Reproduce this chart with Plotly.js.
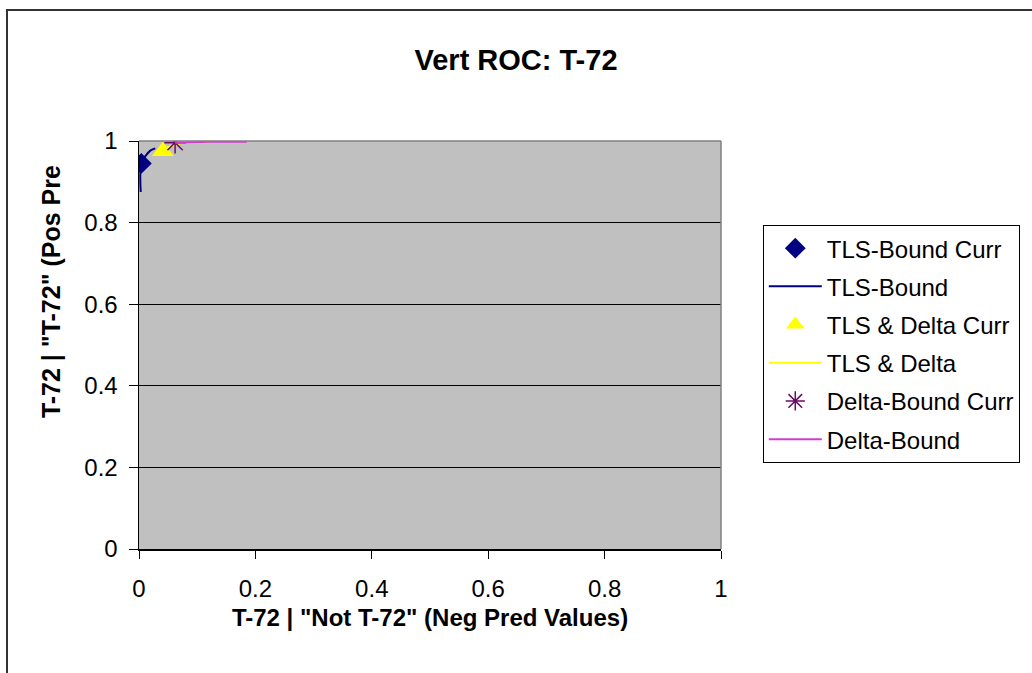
<!DOCTYPE html>
<html>
<head>
<meta charset="utf-8">
<script src="https://cdn.plot.ly/plotly-3.0.1.min.js"></script>
<style>
html,body{margin:0;padding:0;background:#fff;overflow:hidden;}
#wrap{position:relative;width:1032px;height:673px;}
#chart{width:1032px;height:673px;}
#frame{position:absolute;left:6px;top:9px;width:1100px;height:800px;border-left:2px solid #333;border-top:2px solid #333;pointer-events:none;}
</style>
</head>
<body>
<div id="wrap"><div id="chart"></div><div id="frame"></div></div>
<script>
// ---- data ----
var tickVals = [0, 0.2, 0.4, 0.6, 0.8, 1];
var tickText = ["0", "0.2", "0.4", "0.6", "0.8", "1"];

var tlsBoundCurrX = [0.004];
var tlsBoundCurrY = [0.945];
var tlsBoundX = [0.003, 0.004, 0.012, 0.02, 0.028];
var tlsBoundY = [0.875, 0.945, 0.965, 0.977, 0.982];

var tlsDeltaCurrX = [0.041];
var tlsDeltaCurrY = [0.975];
var tlsDeltaX = [0.035, 0.05, 0.075, 0.12];
var tlsDeltaY = [0.965, 0.985, 0.996, 0.998];

var deltaBoundCurrX = [0.062];
var deltaBoundCurrY = [0.996];
var deltaBoundX = [0.062, 0.12, 0.185];
var deltaBoundY = [0.996, 0.998, 0.998];

var seriesNames = ["TLS-Bound Curr", "TLS-Bound", "TLS & Delta Curr", "TLS & Delta", "Delta-Bound Curr", "Delta-Bound"];

var FONT = "Liberation Sans, Arial, sans-serif";

var traces = [
  {x: tlsBoundCurrX, y: tlsBoundCurrY, name: seriesNames[0], mode: "markers", legendgroup: "a",
   marker: {symbol: "diamond", size: 16, color: "#000080"}},
  {x: tlsBoundX, y: tlsBoundY, name: seriesNames[1], mode: "lines", legendgroup: "b",
   line: {color: "#000080", width: 2, shape: "spline"}},
  {x: tlsDeltaCurrX, y: tlsDeltaCurrY, name: seriesNames[2], mode: "markers", legendgroup: "c",
   marker: {symbol: "triangle-up", size: 19, color: "#ffff00"}},
  {x: tlsDeltaX, y: tlsDeltaY, name: seriesNames[3], mode: "lines", legendgroup: "d",
   line: {color: "#ffff00", width: 2}},
  {x: deltaBoundCurrX, y: deltaBoundCurrY, name: seriesNames[4], mode: "markers", legendgroup: "e",
   marker: {symbol: "asterisk-open", size: 18, color: "#6a0a6a", line: {color: "#6a0a6a", width: 1.5}}},
  {x: deltaBoundX, y: deltaBoundY, name: seriesNames[5], mode: "lines", legendgroup: "f",
   line: {color: "#d23cd2", width: 2}}
];

var layout = {
  width: 1032, height: 673,
  margin: {l: 139, r: 308, t: 141, b: 124},
  paper_bgcolor: "#ffffff",
  plot_bgcolor: "#c0c0c0",
  font: {family: FONT, size: 24, color: "#000"},
  title: {text: "<b>Vert ROC: T-72</b>", font: {family: FONT, size: 29, color: "#000"},
          x: 0.5, xref: "container", xanchor: "center", y: 0.911, yref: "container", yanchor: "middle"},
  showlegend: true,
  legend: {x: 1.0718, y: 0.794, xanchor: "left", yanchor: "top",
           bgcolor: "#ffffff", bordercolor: "#000", borderwidth: 1,
           font: {family: FONT, size: 24, color: "#000"},
           tracegroupgap: 4, itemwidth: 53, traceorder: "grouped"},
  xaxis: {range: [0, 1], tickvals: tickVals, ticktext: tickText, showgrid: false, zeroline: false,
          showline: true, linecolor: "#000", linewidth: 1.5, ticks: "outside", ticklen: 8, tickcolor: "#000",
          ticklabelstandoff: 10, tickfont: {family: FONT, size: 24, color: "#000"},
          title: {text: "<b>T-72 | \"Not T-72\" (Neg Pred Values)</b>", font: {family: FONT, size: 24, color: "#000"}, standoff: 8},
          fixedrange: true},
  yaxis: {range: [0, 1], tickvals: tickVals, ticktext: tickText, showgrid: true, gridcolor: "#000", gridwidth: 1,
          zeroline: false, showline: true, linecolor: "#000", linewidth: 1.5, ticks: "outside", ticklen: 9, tickcolor: "#000",
          ticklabelstandoff: 6, tickfont: {family: FONT, size: 24, color: "#000"}, fixedrange: true},
  shapes: [
    {type: "line", xref: "paper", yref: "paper", x0: 0, x1: 1, y0: 1, y1: 1, line: {color: "#808080", width: 1.5}, layer: "above"},
    {type: "line", xref: "paper", yref: "paper", x0: 1, x1: 1, y0: 0, y1: 1, line: {color: "#808080", width: 1.5}, layer: "above"}
  ],
  annotations: [
    {text: "<b>T-72 | \"T-72\" (Pos Pre</b>", xref: "paper", yref: "paper", x: -0.152, y: 0.316,
     xanchor: "center", yanchor: "bottom", textangle: -90, showarrow: false,
     font: {family: FONT, size: 25, color: "#000"}}
  ]
};

Plotly.newPlot("chart", traces, layout, {displayModeBar: false, staticPlot: true});
</script>
</body>
</html>
